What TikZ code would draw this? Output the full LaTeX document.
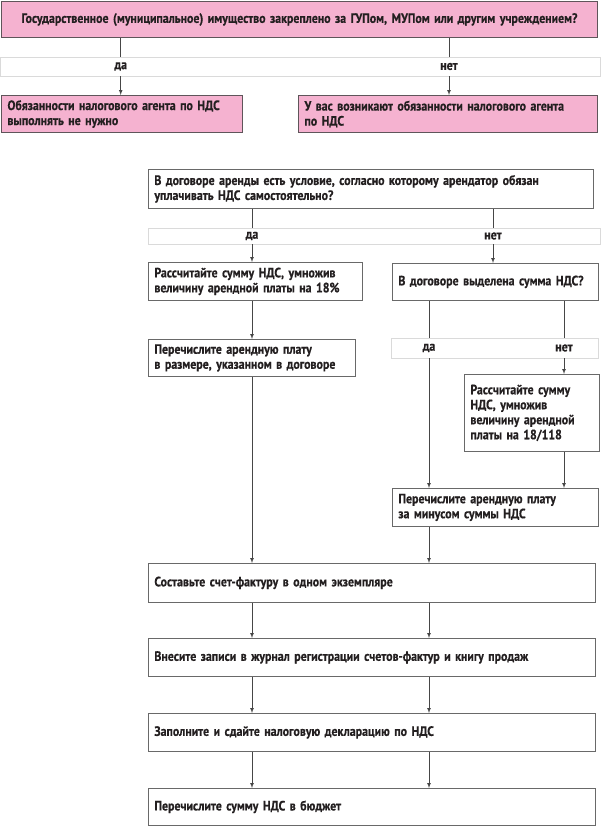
\documentclass[tikz,border=0pt]{standalone}
\usepackage{fontspec}
\setmainfont{PT Sans}[FakeStretch=0.88, BoldFeatures={FakeBold=0.5}]
\usetikzlibrary{arrows,positioning}

\definecolor{pinkfill}{RGB}{245,178,208}
\definecolor{pinkline}{RGB}{95,85,90}
\definecolor{boxline}{RGB}{105,105,105}
\definecolor{bandline}{RGB}{218,218,218}
\definecolor{wirecol}{RGB}{70,70,70}
\definecolor{inkcol}{RGB}{35,31,32}

\tikzset{
	box/.style={draw=boxline, line width=0.8pt, rectangle, anchor=north west,
		inner xsep=6pt, inner ysep=0pt, align=left, text=inkcol,
		font=\bfseries\fontsize{13.5}{15}\selectfont},
	pinkbox/.style={box, fill=pinkfill, draw=pinkline, line width=1pt},
	band/.style={draw=bandline, line width=0.6pt, rectangle, anchor=north west, inner sep=0pt},
	answer/.style={inner sep=0pt, text=inkcol, font=\bfseries\fontsize{13.5}{15}\selectfont},
	wire/.style={draw=wirecol, line width=0.7pt},
	flow/.style={wire, -latex},
}

\begin{document}
\begin{tikzpicture}[x=1pt, y=-1pt]
	\useasboundingbox (0,0) rectangle (600,827);

	%first question: who holds the property
	\node[pinkbox, align=center, text width=584pt, minimum height=36pt] (owner) at (1,1)
		{Государственное (муниципальное) имущество закреплено за ГУПом, МУПом или другим учреждением?};
	\node[band, minimum width=600pt, minimum height=19pt] (band1) at (0,57) {};
	\node[answer, minimum height=19pt] (yes1) at (120.7,66.5) {да};
	\node[answer, minimum height=19pt] (no1) at (449,66.5) {нет};
	\node[pinkbox, text width=229pt, minimum height=37pt] (noagent) at (1,95)
		{Обязанности налогового агента по НДС\\выполнять не нужно};
	\node[pinkbox, text width=287pt, minimum height=37pt] (agent) at (298,95)
		{У вас возникают обязанности налогового агента\\по НДС};

	\draw[wire] (owner.south -| yes1) -- (yes1.north);
	\draw[flow] (yes1.south) -- (noagent.north -| yes1);
	\draw[wire] (owner.south -| no1) -- (no1.north);
	\draw[flow] (no1.south) -- (agent.north -| no1);

	%second question: who pays the tax
	\node[box, text width=433pt, minimum height=39pt] (contract) at (148,169)
		{В договоре аренды есть условие, согласно которому арендатор обязан\\уплачивать НДС самостоятельно?};
	\node[band, minimum width=452pt, minimum height=16pt] (band2) at (148,228) {};
	\node[answer, minimum height=16pt] (yes2) at (252,236) {да};
	\node[answer, minimum height=16pt] (no2) at (493,236) {нет};
	\node[box, text width=202pt, minimum height=38pt] (calcA) at (148,262)
		{Рассчитайте сумму НДС, умножив\\величину арендной платы на 18\%};
	\node[box, text width=194pt, minimum height=37pt] (amount) at (392,263)
		{В договоре выделена сумма НДС?};
	\node[box, text width=195pt, minimum height=37pt] (payfull) at (148,339)
		{Перечислите арендную плату\\в размере, указанном в договоре};

	\draw[wire] (contract.south -| yes2) -- (yes2.north);
	\draw[flow] (yes2.south) -- (calcA.north -| yes2);
	\draw[wire] (contract.south -| no2) -- (no2.north);
	\draw[flow] (no2.south) -- (amount.north -| no2);
	\draw[flow] (calcA.south -| yes2) -- (payfull.north -| yes2);

	%third question: is the tax singled out
	\node[band, minimum width=207pt, minimum height=20pt] (band3) at (391,338) {};
	\node[answer, minimum height=20pt] (yes3) at (429,348) {да};
	\node[answer, minimum height=20pt] (no3) at (564,348) {нет};
	\node[box, text width=123pt, minimum height=77pt] (calcB) at (464,374)
		{Рассчитайте сумму\\НДС, умножив\\величину арендной\\платы на 18/118};
	\node[box, text width=194pt, minimum height=38pt] (payless) at (392,488)
		{Перечислите арендную плату\\за минусом суммы НДС};

	\draw[wire] (amount.south -| yes3) -- (yes3.north);
	\draw[flow] (yes3.south) -- (payless.north -| yes3);
	\draw[wire] (amount.south -| no3) -- (no3.north);
	\draw[flow] (no3.south) -- (calcB.north -| no3);
	\draw[flow] (calcB.south -| no3) -- (payless.north -| no3);

	%common steps
	\node[box, text width=435pt, minimum height=39pt] (invoice) at (148,563)
		{Составьте счет-фактуру в одном экземпляре};
	\node[box, text width=435pt, minimum height=38pt] (journal) at (148,638)
		{Внесите записи в журнал регистрации счетов-фактур и книгу продаж};
	\node[box, text width=435pt, minimum height=38pt] (declare) at (148,713)
		{Заполните и сдайте налоговую декларацию по НДС};
	\node[box, text width=435pt, minimum height=37pt] (budget) at (148,788)
		{Перечислите сумму НДС в бюджет};

	\draw[flow] (payfull.south -| yes2) -- (invoice.north -| yes2);
	\draw[flow] (payless.south -| yes3) -- (invoice.north -| yes3);
	\foreach \a/\b in {invoice/journal, journal/declare, declare/budget}{
		\draw[flow] (\a.south -| yes2) -- (\b.north -| yes2);
		\draw[flow] (\a.south -| yes3) -- (\b.north -| yes3);
	}
\end{tikzpicture}
\end{document}
